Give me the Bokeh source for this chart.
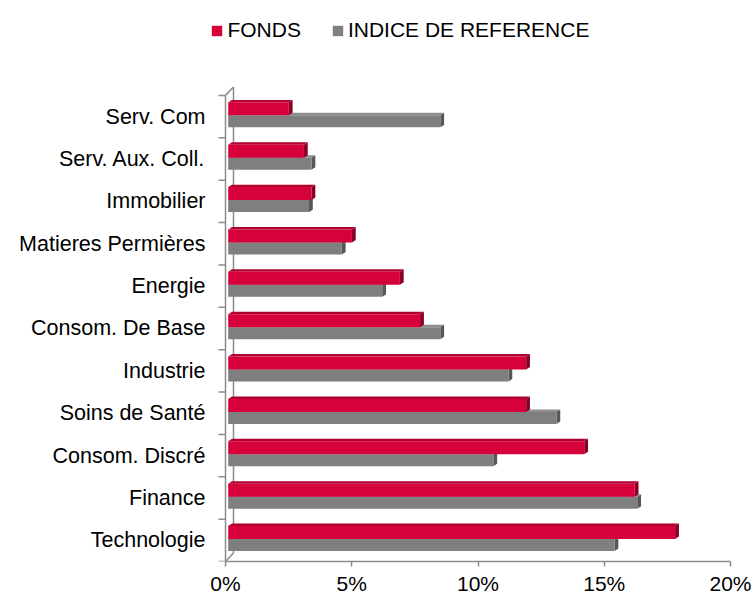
from bokeh.plotting import figure
from bokeh.models import (Range1d, FixedTicker, PrintfTickFormatter, Legend, LegendItem,
                          ColumnDataSource)
from bokeh.embed import file_html
from bokeh.resources import INLINE
import numpy as np

# ---- data (top to bottom as shown) ----
categories = ["Serv. Com", "Serv. Aux. Coll.", "Immobilier", "Matieres Permières", "Energie",
              "Consom. De Base", "Industrie", "Soins de Santé", "Consom. Discré", "Finance",
              "Technologie"]
fonds = [2.4, 3.0, 3.3, 4.9, 6.8, 7.6, 11.8, 11.8, 14.1, 16.1, 17.7]
indice = [8.4, 3.3, 3.2, 4.5, 6.1, 8.4, 11.1, 13.0, 10.5, 16.2, 15.3]
x_ticks = [0, 5, 10, 15, 20]
series_names = ["FONDS", "INDICE DE REFERENCE"]

n = len(categories)
ypos = np.arange(n)[::-1].astype(float)  # top category gets highest index

FONT = "Liberation Sans"
AXIS_COL = "#8C8C8C"

# geometry constants (style)
PX_X = 25.25      # px per 1 %
PX_Y = 42.45      # px per category
FRAME_LEFT = 208
ZERO_PX = 225
BAR_X0 = 2.7 / PX_X
BDX = 3.8 / PX_X
BDY = 2.5 / PX_Y
WDX = 8.0 / PX_X
WDY = 8.5 / PX_Y
TICK = 7.0 / PX_X

x_start = -(ZERO_PX - FRAME_LEFT) / PX_X
p = figure(width=752, height=597, output_backend="svg", toolbar_location=None,
           x_range=Range1d(x_start, 20), y_range=Range1d(-0.5, -0.5 + 562 / PX_Y),
           min_border_left=FRAME_LEFT, min_border_right=22, min_border_top=0,
           min_border_bottom=35)
p.outline_line_color = None
p.xgrid.visible = False
p.ygrid.visible = False
p.background_fill_color = "white"

# ---- walls / value axis line ----
y_lo, y_hi = -0.5, n - 0.5
p.segment(x0=[0, 0, WDX, 0], y0=[y_lo, y_hi, y_lo + WDY, y_lo],
          x1=[WDX, WDX, WDX, 0], y1=[y_lo + WDY, y_hi + WDY, y_hi + WDY, y_hi],
          line_color=AXIS_COL, line_width=1.5)
bounds = [k - 0.5 for k in range(n + 1)]
p.segment(x0=[-TICK] * len(bounds), y0=bounds, x1=[0] * len(bounds), y1=bounds,
          line_color=AXIS_COL, line_width=1.5)


def draw_bars(vals, bottom_off, top_off, c_front, c_top, c_side):
    vals = np.asarray(vals, dtype=float)
    L = np.full(n, BAR_X0)
    R = BAR_X0 + vals
    B = ypos + bottom_off
    T = ypos + top_off
    top_xs = [[l, r, r + BDX, l + BDX] for l, r in zip(L, R)]
    top_ys = [[t, t, t + BDY, t + BDY] for t in T]
    side_xs = [[r, r + BDX, r + BDX, r] for r in R]
    side_ys = [[b, b + BDY, t + BDY, t] for b, t in zip(B, T)]
    p.patches(top_xs, top_ys, fill_color=c_top, line_color=None)
    p.patches(side_xs, side_ys, fill_color=c_side, line_color=None)
    src = ColumnDataSource(dict(left=L, right=R, bottom=B, top=T))
    return p.quad(left="left", right="right", bottom="bottom", top="top", source=src,
                  fill_color=c_front, line_color=None)


r_grey = draw_bars(indice, -0.255, 0.03, "#7F7F7F", "#8E8E8E", "#575757")
r_red = draw_bars(fonds, 0.03, 0.335, "#D6003B", "#B0002F", "#8A0024")

# ---- axes ----
xa = p.xaxis[0]
xa.ticker = FixedTicker(ticks=x_ticks, minor_ticks=[])
xa.formatter = PrintfTickFormatter(format="%d%%")
xa.bounds = (0, 20)
xa.axis_line_color = AXIS_COL
xa.axis_line_width = 1.5
xa.major_tick_line_color = AXIS_COL
xa.major_tick_line_width = 1.5
xa.major_tick_out = 5
xa.major_tick_in = 0
xa.minor_tick_line_color = None
xa.major_label_standoff = 5
xa.major_label_text_font = FONT
xa.major_label_text_font_size = "21px"
xa.major_label_text_color = "black"

ya = p.yaxis[0]
ya.ticker = FixedTicker(ticks=list(ypos), minor_ticks=[])
ya.major_label_overrides = {float(y): c for y, c in zip(ypos, categories)}
ya.axis_line_color = None
ya.major_tick_line_color = None
ya.minor_tick_line_color = None
ya.major_tick_out = 0
ya.major_tick_in = 0
ya.major_label_standoff = 3
ya.major_label_text_font = FONT
ya.major_label_text_font_size = "21.5px"
ya.major_label_text_color = "black"

# ---- legend ----
legend = Legend(items=[LegendItem(label=series_names[0], renderers=[r_red]),
                       LegendItem(label=series_names[1], renderers=[r_grey])],
                orientation="horizontal", location=(210.4 - FRAME_LEFT, 519),
                glyph_width=13, glyph_height=13, label_standoff=4, spacing=30,
                padding=0, margin=0, border_line_color=None, background_fill_alpha=0,
                label_text_font=FONT, label_text_font_size="21px", label_text_color="black")
p.add_layout(legend)

open("out.html", "w").write(file_html(p, INLINE))
